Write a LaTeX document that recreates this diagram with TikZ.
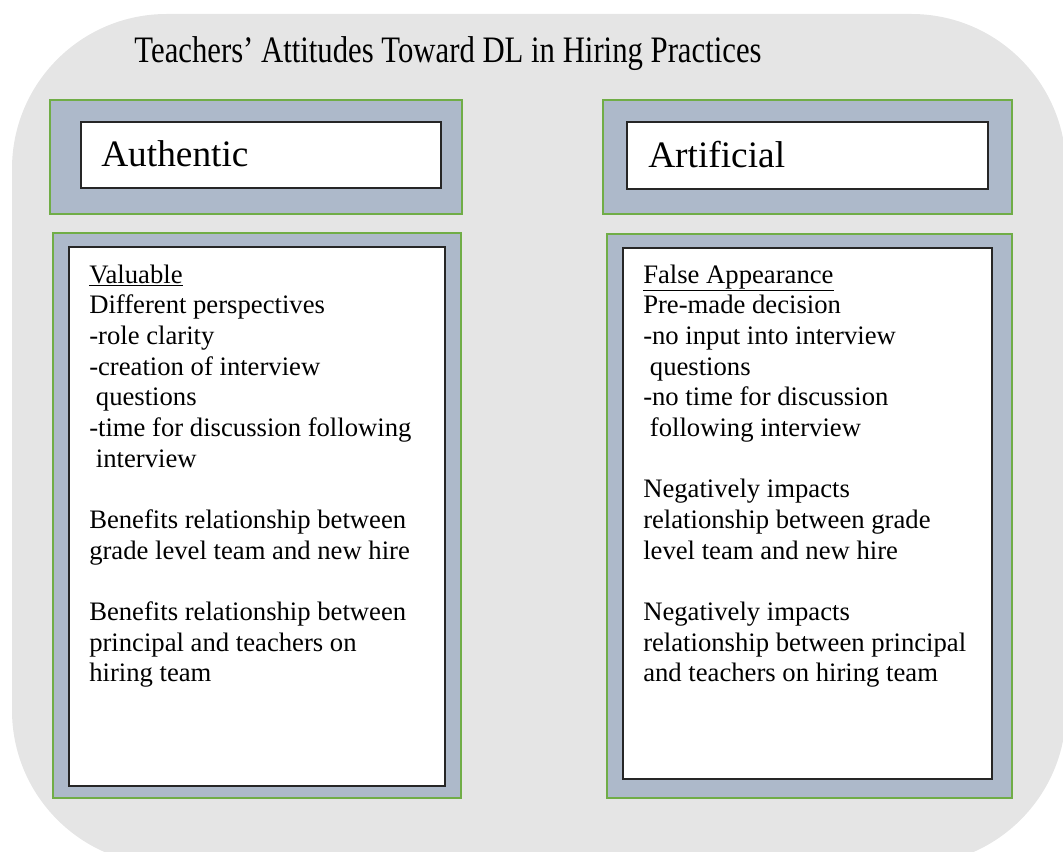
\documentclass[tikz,border=0pt]{standalone}
\usepackage{fontspec}
\setmainfont{Liberation Serif}
\newfontfamily\titlefont{Liberation Serif}[FakeStretch=0.823]
\definecolor{bggrey}{HTML}{E5E5E5}
\definecolor{bluegrey}{HTML}{ADB9CA}
\definecolor{framegreen}{HTML}{70AD47}
\definecolor{innerline}{HTML}{262626}
\tikzset{
  outerbox/.style={fill=bluegrey, draw=framegreen, line width=1.5pt},
  innerbox/.style={fill=white, draw=innerline, line width=0.9pt},
  bigtext/.style={font=\fontsize{28}{34}\selectfont, inner sep=0pt},
  bodytext/.style={inner sep=0pt, anchor=base west}
}
\newcommand{\bodyfont}{\fontsize{20}{23}\selectfont}
\begin{document}
\begin{tikzpicture}[x=0.75pt,y=-0.75pt]
\useasboundingbox (0,0) rectangle (1063,852);
\begin{scope}
  \clip (0,0) rectangle (1063,852);
  \fill[bggrey, rounded corners=116pt] (12,14) rectangle (1066,865);
\end{scope}

\node[bigtext, anchor=base] (title) at (448,63) {\titlefont Teachers’ Attitudes Toward DL in Hiring Practices};

% header boxes
\draw[outerbox] (50,100) rectangle (462,214);
\draw[innerbox] (81,122) rectangle (441,188);
\node[bigtext, anchor=base west] (authentic) at (101,167) {Authentic};

\draw[outerbox] (603,100) rectangle (1012,214);
\draw[innerbox] (627,122) rectangle (988,189);
\node[bigtext, anchor=base west] (artificial) at (648,168) {Artificial};

% body boxes
\draw[outerbox] (53,233) rectangle (461,798);
\draw[innerbox] (69,247) rectangle (445,786);
\node[bodytext] (authbody) at (89,283) {\bodyfont\begin{tabular}[t]{@{}l@{}}
\underline{Valuable}\\
Different perspectives\\
-role clarity\\
-creation of interview\\
\hspace{0.25em}questions\\
-time for discussion following\\
\hspace{0.25em}interview\\
\\
Benefits relationship between\\
grade level team and new hire\\
\\
Benefits relationship between\\
principal and teachers on\\
hiring team
\end{tabular}};

\draw[outerbox] (607,234) rectangle (1012,798);
\draw[innerbox] (623,248) rectangle (992,779);
\node[bodytext] (artbody) at (643,283) {\bodyfont\begin{tabular}[t]{@{}l@{}}
\underline{False Appearance}\\
Pre-made decision\\
-no input into interview\\
\hspace{0.25em}questions\\
-no time for discussion\\
\hspace{0.25em}following interview\\
\\
Negatively impacts\\
relationship between grade\\
level team and new hire\\
\\
Negatively impacts\\
relationship between principal\\
and teachers on hiring team
\end{tabular}};
\end{tikzpicture}
\end{document}
